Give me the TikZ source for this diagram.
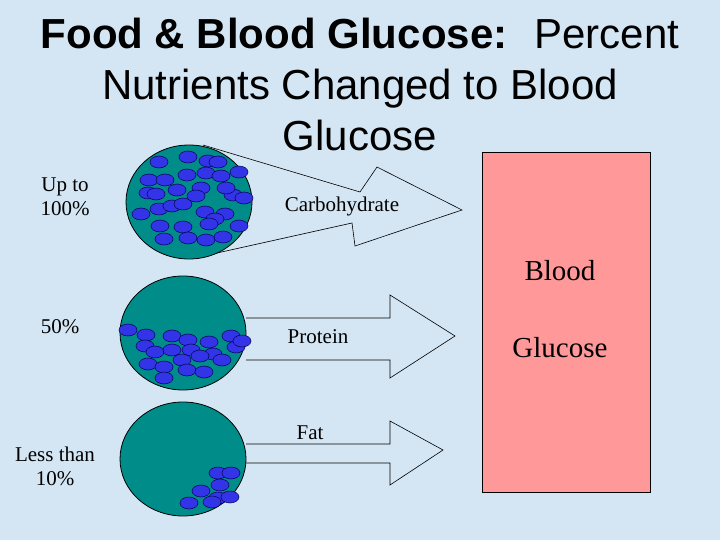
\documentclass[tikz,border=0pt]{standalone}
\usepackage{fontspec}
\usetikzlibrary{shapes.geometric}
\setmainfont{Liberation Serif}
\newfontfamily\arialf{Liberation Sans}
\definecolor{bgc}{HTML}{D4E6F4}
\definecolor{ballc}{HTML}{008C88}
\definecolor{dotc}{HTML}{3333E8}
\definecolor{pinkc}{HTML}{FF9999}
\begin{document}
\begin{tikzpicture}[x=1pt,y=-1pt,
  ball/.style={ellipse,draw=black,fill=ballc,line width=0.8pt,minimum width=126pt,minimum height=114pt,inner sep=0pt},
  dot/.style={draw=black!70!blue,fill=dotc,line width=0.5pt},
  arr/.style={draw=black,line width=0.6pt},
  lbl/.style={font=\fontsize{21}{24}\selectfont,align=center},
  ttl/.style={font=\arialf\fontsize{42}{51}\selectfont,align=center}]
\fill[bgc] (0,0) rectangle (720,540);
\useasboundingbox (0,0) rectangle (720,540);
\node[ttl] (title) at (360,84) {\textbf{Food \& Blood Glucose:} \ Percent\\Nutrients Changed to Blood\\Glucose};
\node[draw=black,fill=pinkc,minimum width=168pt,minimum height=340pt,line width=0.6pt] (blood) at (566,322) {};
\node[lbl,font=\fontsize{29}{31}\selectfont] (bl) at (560,271) {Blood};
\node[lbl,font=\fontsize{29}{31}\selectfont] (gl) at (560,348) {Glucose};
\node[lbl] (p1) at (65,197) {Up to\\100\%};
\node[lbl] (p2) at (60,327) {50\%};
\node[lbl] (p3) at (55,466) {Less than\\10\%};
% arrows
\draw[arr] (203,145) -- (360,192) -- (377,167) -- (462,210) -- (355,246) -- (352,223) -- (208,255);
\draw[arr] (246,318) -- (390,318) -- (390,295) -- (455,336) -- (390,378) -- (390,360) -- (246,360);
\draw[arr] (246,444) -- (390,444) -- (390,421) -- (443,450) -- (390,485) -- (390,463) -- (246,463);
\node[ball] (c1) at (189,202) {};
\node[ball] (c2) at (183,333) {};
\node[ball] (c3) at (183,459) {};
\node[lbl] (carb) at (342,206) {Carbohydrate};
\node[lbl] (prot) at (318,337) {Protein};
\node[lbl] (fat) at (310,433) {Fat};
\foreach \x/\y in {159/162,188/157,208/161,218/162,149/180,165/180,187/175,206/173,221/176,239/172,148/193,177/190,201/188,233/195,244/198,141/214,159/209,172/206,183/204,205/212,225/214,215/219,239/226,160/226,183/227,209/224,164/239,188/238,206/240,223/237,196/196,156/194,226/188}
  \filldraw[dot] (\x,\y) ellipse (9 and 6);
\foreach \x/\y in {128/330,146/335,172/336,188/340,209/342,231/336,145/346,155/352,172/350,191/350,213/354,236/347,148/364,164/367,182/360,200/356,222/360,164/378,187/370,204/372,242/341}
  \filldraw[dot] (\x,\y) ellipse (9 and 6);
\foreach \x/\y in {218/473,231/473,220/485,201/491,218/498,230/497,189/503,212/502}
  \filldraw[dot] (\x,\y) ellipse (9 and 6);
\end{tikzpicture}
\end{document}
